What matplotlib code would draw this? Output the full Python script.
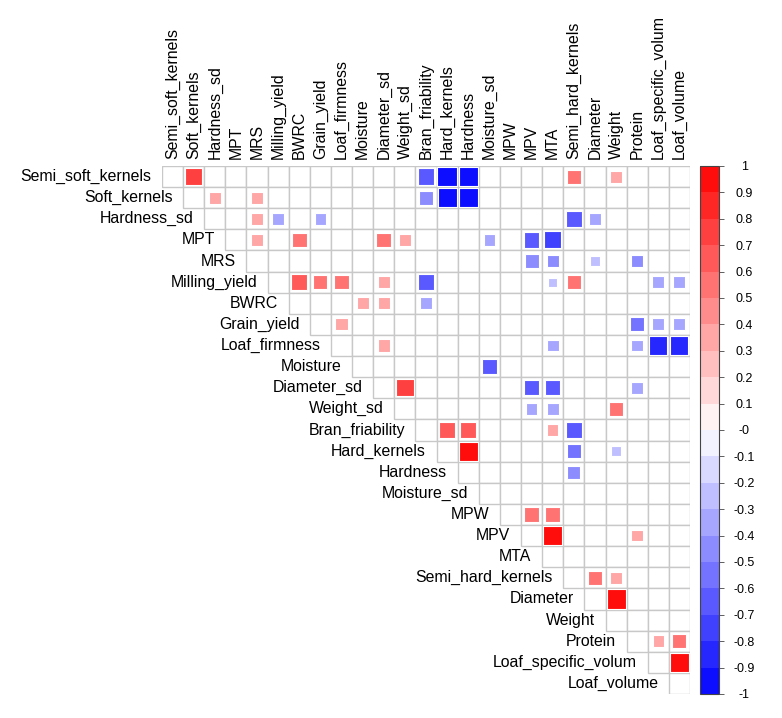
import numpy as np
import matplotlib
matplotlib.use('Agg')
import matplotlib.pyplot as plt
from matplotlib.colors import ListedColormap, BoundaryNorm
from matplotlib.patches import Rectangle

plt.rcParams['font.family'] = ['Liberation Sans', 'DejaVu Sans']

# ─── Data ────────────────────────────────────────────────────────────────────
variables = [
    'Semi_soft_kernels', 'Soft_kernels', 'Hardness_sd', 'MPT', 'MRS',
    'Milling_yield', 'BWRC', 'Grain_yield', 'Loaf_firmness', 'Moisture',
    'Diameter_sd', 'Weight_sd', 'Bran_friability', 'Hard_kernels', 'Hardness',
    'Moisture_sd', 'MPW', 'MPV', 'MTA', 'Semi_hard_kernels', 'Diameter',
    'Weight', 'Protein', 'Loaf_specific_volum', 'Loaf_volume',
]

# significant correlations (row variable, column variable, r)
pair_row = [
    'Semi_soft_kernels', 'Semi_soft_kernels', 'Semi_soft_kernels', 'Semi_soft_kernels',
    'Semi_soft_kernels', 'Semi_soft_kernels',
    'Soft_kernels', 'Soft_kernels', 'Soft_kernels', 'Soft_kernels', 'Soft_kernels',
    'Hardness_sd', 'Hardness_sd', 'Hardness_sd', 'Hardness_sd', 'Hardness_sd',
    'MPT', 'MPT', 'MPT', 'MPT', 'MPT', 'MPT', 'MPT',
    'MRS', 'MRS', 'MRS', 'MRS',
    'Milling_yield', 'Milling_yield', 'Milling_yield', 'Milling_yield', 'Milling_yield',
    'Milling_yield', 'Milling_yield', 'Milling_yield', 'Milling_yield',
    'BWRC', 'BWRC', 'BWRC',
    'Grain_yield', 'Grain_yield', 'Grain_yield', 'Grain_yield',
    'Loaf_firmness', 'Loaf_firmness', 'Loaf_firmness', 'Loaf_firmness', 'Loaf_firmness',
    'Moisture',
    'Diameter_sd', 'Diameter_sd', 'Diameter_sd', 'Diameter_sd',
    'Weight_sd', 'Weight_sd', 'Weight_sd',
    'Bran_friability', 'Bran_friability', 'Bran_friability', 'Bran_friability',
    'Hard_kernels', 'Hard_kernels', 'Hard_kernels',
    'Hardness',
    'MPW', 'MPW',
    'MPV', 'MPV',
    'Semi_hard_kernels', 'Semi_hard_kernels',
    'Diameter',
    'Protein', 'Protein',
    'Loaf_specific_volum',
]
pair_col = [
    'Soft_kernels', 'Bran_friability', 'Hard_kernels', 'Hardness',
    'Semi_hard_kernels', 'Weight',
    'Hardness_sd', 'MRS', 'Bran_friability', 'Hard_kernels', 'Hardness',
    'MRS', 'Milling_yield', 'Grain_yield', 'Semi_hard_kernels', 'Diameter',
    'MRS', 'BWRC', 'Diameter_sd', 'Weight_sd', 'Moisture_sd', 'MPV', 'MTA',
    'MPV', 'MTA', 'Diameter', 'Protein',
    'BWRC', 'Grain_yield', 'Loaf_firmness', 'Diameter_sd', 'Bran_friability',
    'MTA', 'Semi_hard_kernels', 'Loaf_specific_volum', 'Loaf_volume',
    'Moisture', 'Diameter_sd', 'Bran_friability',
    'Loaf_firmness', 'Protein', 'Loaf_specific_volum', 'Loaf_volume',
    'Diameter_sd', 'MTA', 'Protein', 'Loaf_specific_volum', 'Loaf_volume',
    'Moisture_sd',
    'Weight_sd', 'MPV', 'MTA', 'Protein',
    'MPV', 'MTA', 'Weight',
    'Hard_kernels', 'Hardness', 'MTA', 'Semi_hard_kernels',
    'Hardness', 'Semi_hard_kernels', 'Weight',
    'Semi_hard_kernels',
    'MPV', 'MTA',
    'MTA', 'Protein',
    'Diameter', 'Weight',
    'Weight',
    'Loaf_specific_volum', 'Loaf_volume',
    'Loaf_volume',
]
pair_r = [
    0.72, -0.68, -1.00, -0.96,
    0.50, 0.38,
    0.38, 0.38, -0.50, -0.95, -0.95,
    0.38, -0.35, -0.35, -0.62, -0.38,
    0.40, 0.55, 0.55, 0.38, -0.35, -0.62, -0.75,
    -0.50, -0.40, -0.25, -0.40,
    0.65, 0.52, 0.55, 0.40, -0.62,
    -0.22, 0.55, -0.38, -0.38,
    0.38, 0.40, -0.35,
    0.38, -0.52, -0.38, -0.38,
    0.38, -0.35, -0.35, -0.85, -0.85,
    -0.62,
    0.78, -0.62, -0.62, -0.35,
    -0.35, -0.38, 0.50,
    0.70, 0.70, 0.32, -0.66,
    0.95, -0.52, -0.25,
    -0.42,
    0.60, 0.60,
    0.95, 0.35,
    0.52, 0.35,
    0.95,
    0.35, 0.50,
    0.95,
]

cbar_ticks = [round(t, 1) for t in np.arange(-1.0, 1.01, 0.1)]

# ─── Colours ─────────────────────────────────────────────────────────────────
centers = np.arange(-0.95, 1.0, 0.1)
band_colors = []
for v in centers:
    if v > 0:
        band_colors.append((1.0, 1.0 - v, 1.0 - v))
    else:
        band_colors.append((1.0 + v, 1.0 + v, 1.0))
cmap = ListedColormap(band_colors)
norm = BoundaryNorm(np.linspace(-1, 1, 21), cmap.N)

# ─── Figure ──────────────────────────────────────────────────────────────────
W, H = 782, 718
fig = plt.figure(figsize=(W / 100, H / 100), dpi=100)
n = len(variables)
x0, x1, y0, y1 = 162, 690, 166, 694
ax = fig.add_axes([x0 / W, 1 - y1 / H, (x1 - x0) / W, (y1 - y0) / H])
ax.set_xlim(0, n)
ax.set_ylim(n, 0)
ax.axis('off')

grid_color = '#c8c8c8'
for i in range(n):
    for j in range(i, n):
        ax.add_patch(Rectangle((j, i), 1, 1, facecolor='white',
                               edgecolor=grid_color, linewidth=1.0))

idx = {v: k for k, v in enumerate(variables)}
for rv, cv, r in zip(pair_row, pair_col, pair_r):
    i, j = idx[rv], idx[cv]
    side = np.sqrt(abs(r)) * 0.93
    ax.add_patch(Rectangle((j + 0.5 - side / 2, i + 0.5 - side / 2), side, side,
                           facecolor=cmap(norm(r)), edgecolor='white',
                           linewidth=0.8))

fs = 11.4
for k, name in enumerate(variables):
    ax.text(k - 0.5, k + 0.5, name, ha='right', va='center', fontsize=fs)
    ax.text(k + 0.5, -0.35, name, ha='center', va='bottom', rotation=90,
            fontsize=fs)

# ─── Colorbar ────────────────────────────────────────────────────────────────
cx0, cx1, cy0, cy1 = 700, 719, 166, 694
cax = fig.add_axes([cx0 / W, 1 - cy1 / H, (cx1 - cx0) / W, (cy1 - cy0) / H])
sm = plt.cm.ScalarMappable(cmap=cmap, norm=norm)
cb = fig.colorbar(sm, cax=cax, ticks=cbar_ticks)
cb.ax.set_yticklabels(['%g' % t for t in cbar_ticks], ha='center')
cb.ax.tick_params(labelsize=9, length=3.6, width=0.6, color='#444444', pad=14.5)
cb.outline.set_edgecolor('#444444')
cb.outline.set_linewidth(0.8)

plt.savefig('out.png', dpi=100)
plt.close()
